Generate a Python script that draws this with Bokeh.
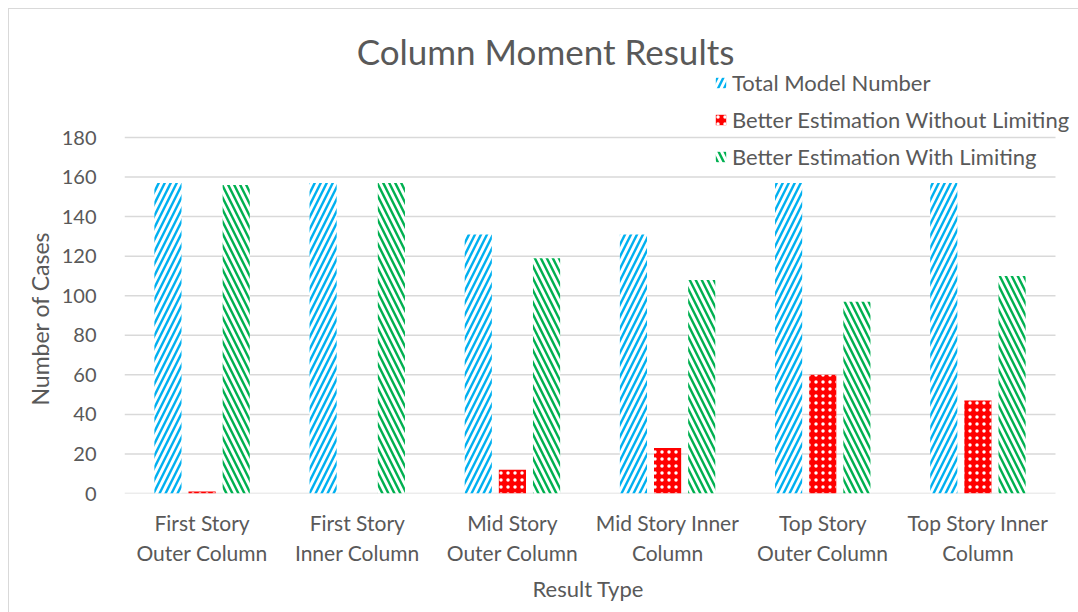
from bokeh.plotting import figure
from bokeh.models import (Range1d, Legend, LegendItem, Label, ColumnDataSource, FixedTicker, Title,
                          InlineStyleSheet)
from bokeh.transform import dodge
from bokeh.embed import file_html
from bokeh.resources import INLINE

categories = ["First Story\nOuter Column", "First Story\nInner Column", "Mid Story\nOuter Column",
              "Mid Story Inner\nColumn", "Top Story\nOuter Column", "Top Story Inner\nColumn"]
total_model = [157, 157, 131, 131, 157, 157]
without_limiting = [1, 0, 12, 23, 60, 47]
with_limiting = [156, 157, 119, 108, 97, 110]
series_names = ["Total Model Number", "Better Estimation Without Limiting", "Better Estimation With Limiting"]
y_ticks = [0, 20, 40, 60, 80, 100, 120, 140, 160, 180]

FONT = "Lato"
TXT = "#595959"
GRID = "#d9d9d9"

W, H = 1078, 612
LEFT, BOTTOM = 124, 119
PLOT_RIGHT_PX, PLOT_TOP_PX = 1055, 137        # where the category area / 180 line end
frame_w = W - LEFT
frame_h = H - BOTTOM
n = len(categories)
x_end = n * frame_w / (PLOT_RIGHT_PX - LEFT)
y_end = y_ticks[-1] * frame_h / (frame_h - PLOT_TOP_PX)

centers = [i + 0.5 for i in range(n)]
src = ColumnDataSource(dict(xc=centers, total=total_model, wo=without_limiting, w=with_limiting))

p = figure(width=W, height=H, x_range=Range1d(0, x_end), y_range=Range1d(0, y_end),
           output_backend="svg", toolbar_location=None,
           min_border_left=LEFT, min_border_right=0, min_border_top=0, min_border_bottom=BOTTOM)
p.outline_line_color = None
p.background_fill_color = "white"
p.border_fill_color = "white"
p.stylesheets = [InlineStyleSheet(css=(
    ":host { position: relative; }"
    ":host::after { content: ''; position: absolute; left: 8px; top: 8px; right: 0; bottom: 0;"
    " border-top: 1px solid #d9d9d9; border-left: 1px solid #d9d9d9;"
    " pointer-events: none; z-index: 100; }"))]

# gridlines limited to the category area
p.xgrid.grid_line_color = None
p.ygrid.grid_line_color = None
p.segment(x0=[0] * len(y_ticks), x1=[n] * len(y_ticks), y0=y_ticks, y1=y_ticks,
          line_color=GRID, line_width=1.5)

bw = 0.175
off = 0.22
r1 = p.vbar(x=dodge("xc", -off), top="total", width=bw, source=src,
            fill_color="white", line_color=None, hatch_pattern="/", hatch_color="#00B0F0",
            hatch_scale=12, hatch_weight=2.4)
r2 = p.vbar(x=dodge("xc", 0.0), top="wo", width=bw, source=src,
            fill_color="#FF0000", line_color=None, hatch_pattern=".", hatch_color="white",
            hatch_scale=7, hatch_weight=2)
r3 = p.vbar(x=dodge("xc", off), top="w", width=bw, source=src,
            fill_color="white", line_color=None, hatch_pattern="\\", hatch_color="#00B050",
            hatch_scale=12, hatch_weight=2.4)

# y axis
p.yaxis.ticker = FixedTicker(ticks=y_ticks)
p.yaxis.axis_line_color = None
p.yaxis.major_tick_line_color = None
p.yaxis.minor_tick_line_color = None
p.yaxis.major_label_standoff = 22
p.yaxis.major_label_text_font = FONT
p.yaxis.major_label_text_font_size = "20px"
p.yaxis.major_label_text_color = TXT

# x axis with category labels
p.xaxis.ticker = FixedTicker(ticks=centers)
p.xaxis.major_label_overrides = {c: lab for c, lab in zip(centers, categories)}
p.xaxis.axis_line_color = None
p.xaxis.major_tick_line_color = None
p.xaxis.minor_tick_line_color = None
p.xaxis.major_label_standoff = 10
p.xaxis.major_label_text_font = FONT
p.xaxis.major_label_text_font_size = "21px"
p.xaxis.major_label_text_color = TXT

# axis titles
ytitle = Title(text="Number of Cases", align="left", offset=88,
               text_font=FONT, text_font_size="23px", text_font_style="normal", text_color=TXT)
p.add_layout(ytitle, "left")
xtitle = Title(text="Result Type", align="left", offset=408,
               text_font=FONT, text_font_size="22px", text_font_style="normal", text_color=TXT)
p.add_layout(xtitle, "below")

# chart title
title = Label(x=421, y=443, x_units="screen", y_units="screen", text="Column Moment Results",
              text_font=FONT, text_font_size="35px", text_color=TXT,
              text_align="center", text_baseline="middle")
p.add_layout(title)

legend = Legend(items=[LegendItem(label=series_names[0], renderers=[r1]),
                       LegendItem(label=series_names[1], renderers=[r2]),
                       LegendItem(label=series_names[2], renderers=[r3])],
                location=(590, 323), orientation="vertical",
                glyph_width=13, glyph_height=13, label_standoff=5, spacing=10,
                padding=0, margin=0, border_line_color=None, background_fill_alpha=0,
                label_text_font=FONT, label_text_font_size="22px", label_text_color=TXT)
p.add_layout(legend)

open("out.html", "w").write(file_html(p, INLINE))
